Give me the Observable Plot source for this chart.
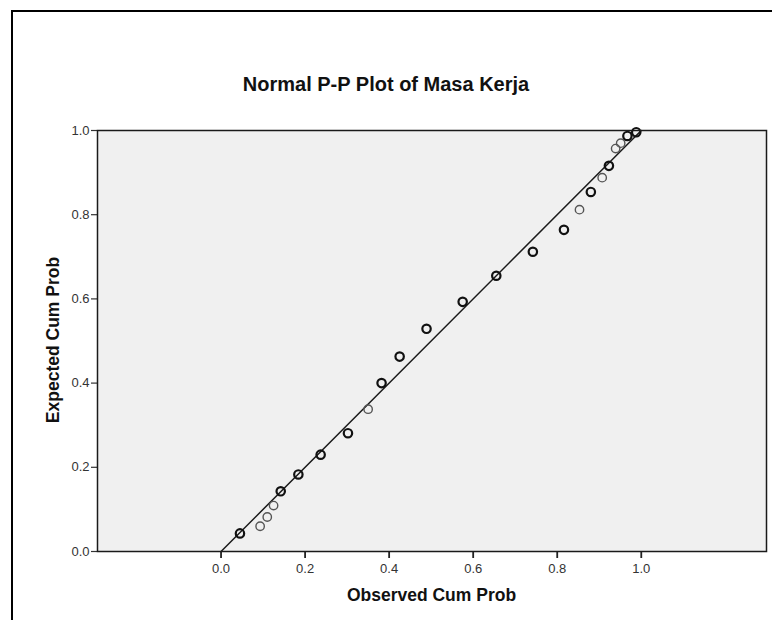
<!DOCTYPE html>
<html>
<head>
<meta charset="utf-8">
<script src="https://cdn.jsdelivr.net/npm/d3@7"></script>
<script src="https://cdn.jsdelivr.net/npm/@observablehq/plot@0.6"></script>
<style>
  html, body { margin: 0; padding: 0; background: #fff; }
  body { width: 772px; height: 620px; position: relative; overflow: hidden; font-family: "Liberation Sans", Arial, sans-serif; }
  #frame { position: absolute; left: 11px; top: 10px; width: 800px; height: 700px; border-left: 2px solid #000; border-top: 2px solid #000; }
  #chart { position: absolute; left: 0; top: 0; }
  .title { position: absolute; left: 0; width: 772px; top: 73px; text-align: center; font-size: 20px; font-weight: bold; color: #111; }
  .xlabel { position: absolute; left: 97px; width: 669px; top: 585px; text-align: center; font-size: 17.5px; font-weight: bold; color: #111; }
  .ylabel { position: absolute; left: 53px; top: 340px; transform: translate(-50%, -50%) rotate(-90deg); white-space: nowrap; font-size: 17.5px; font-weight: bold; color: #111; }
</style>
</head>
<body>
<div id="frame"></div>
<div id="chart"></div>
<div class="title">Normal P-P Plot of Masa Kerja</div>
<div class="xlabel">Observed Cum Prob</div>
<div class="ylabel">Expected Cum Prob</div>
<script>
// Observed cumulative probabilities (x) and expected cumulative probabilities (y)
const observed = [0.045, 0.093, 0.110, 0.125, 0.142, 0.184, 0.237, 0.302, 0.350, 0.382, 0.425, 0.489,
                  0.575, 0.655, 0.742, 0.816, 0.853, 0.880, 0.907, 0.923, 0.939, 0.951, 0.967, 0.988];
const expected = [0.043, 0.060, 0.082, 0.109, 0.143, 0.183, 0.230, 0.281, 0.338, 0.400, 0.463, 0.529,
                  0.593, 0.655, 0.712, 0.764, 0.812, 0.854, 0.888, 0.916, 0.957, 0.970, 0.987, 0.996];
// number of overlapping cases drawn at each point
const cases    = [2, 1, 1, 1, 2, 2, 2, 2, 1, 2, 2, 2, 2, 2, 2, 2, 1, 2, 1, 2, 1, 1, 2, 2];
const tickValues = [0, 0.2, 0.4, 0.6, 0.8, 1.0];
const refLine = [{x: 0, y: 0}, {x: 1, y: 1}];

const pts = observed.map((o, i) => ({x: o, y: expected[i], n: cases[i]}));

const chart = Plot.plot({
  width: 772,
  height: 620,
  marginLeft: 97,
  marginRight: 6,
  marginTop: 130,
  marginBottom: 69,
  style: {fontFamily: "Liberation Sans, Arial, sans-serif", fontSize: "13px", color: "#333", background: "transparent"},
  x: {domain: [-0.294, 1.298], ticks: tickValues, tickFormat: d3.format(".1f"), label: null},
  y: {domain: [0, 1], ticks: tickValues, tickFormat: d3.format(".1f"), label: null},
  marks: [
    Plot.frame({fill: "#f0f0f0", stroke: null}),
    Plot.axisX({ticks: tickValues, tickFormat: d3.format(".1f"), tickSize: 7, tickPadding: 5, strokeWidth: 1.8, stroke: "#222", fill: "#333", fontSize: 13, label: null}),
    Plot.axisY({ticks: tickValues, tickFormat: d3.format(".1f"), tickSize: 6, tickPadding: 2, strokeWidth: 1.2, stroke: "#333", fill: "#333", fontSize: 13, label: null}),
    Plot.line(refLine, {x: "x", y: "y", stroke: "#1a1a1a", strokeWidth: 1.5}),
    Plot.dot(pts.filter(d => d.n === 1), {x: "x", y: "y", r: 4.2, stroke: "#555", strokeWidth: 1.4, fill: "none"}),
    Plot.dot(pts.filter(d => d.n > 1), {x: "x", y: "y", r: 4.2, stroke: "#111", strokeWidth: 2.2, fill: "none"}),
    Plot.frame({stroke: "#1a1a1a", strokeWidth: 1.5})
  ]
});
document.getElementById("chart").appendChild(chart);
</script>
</body>
</html>
